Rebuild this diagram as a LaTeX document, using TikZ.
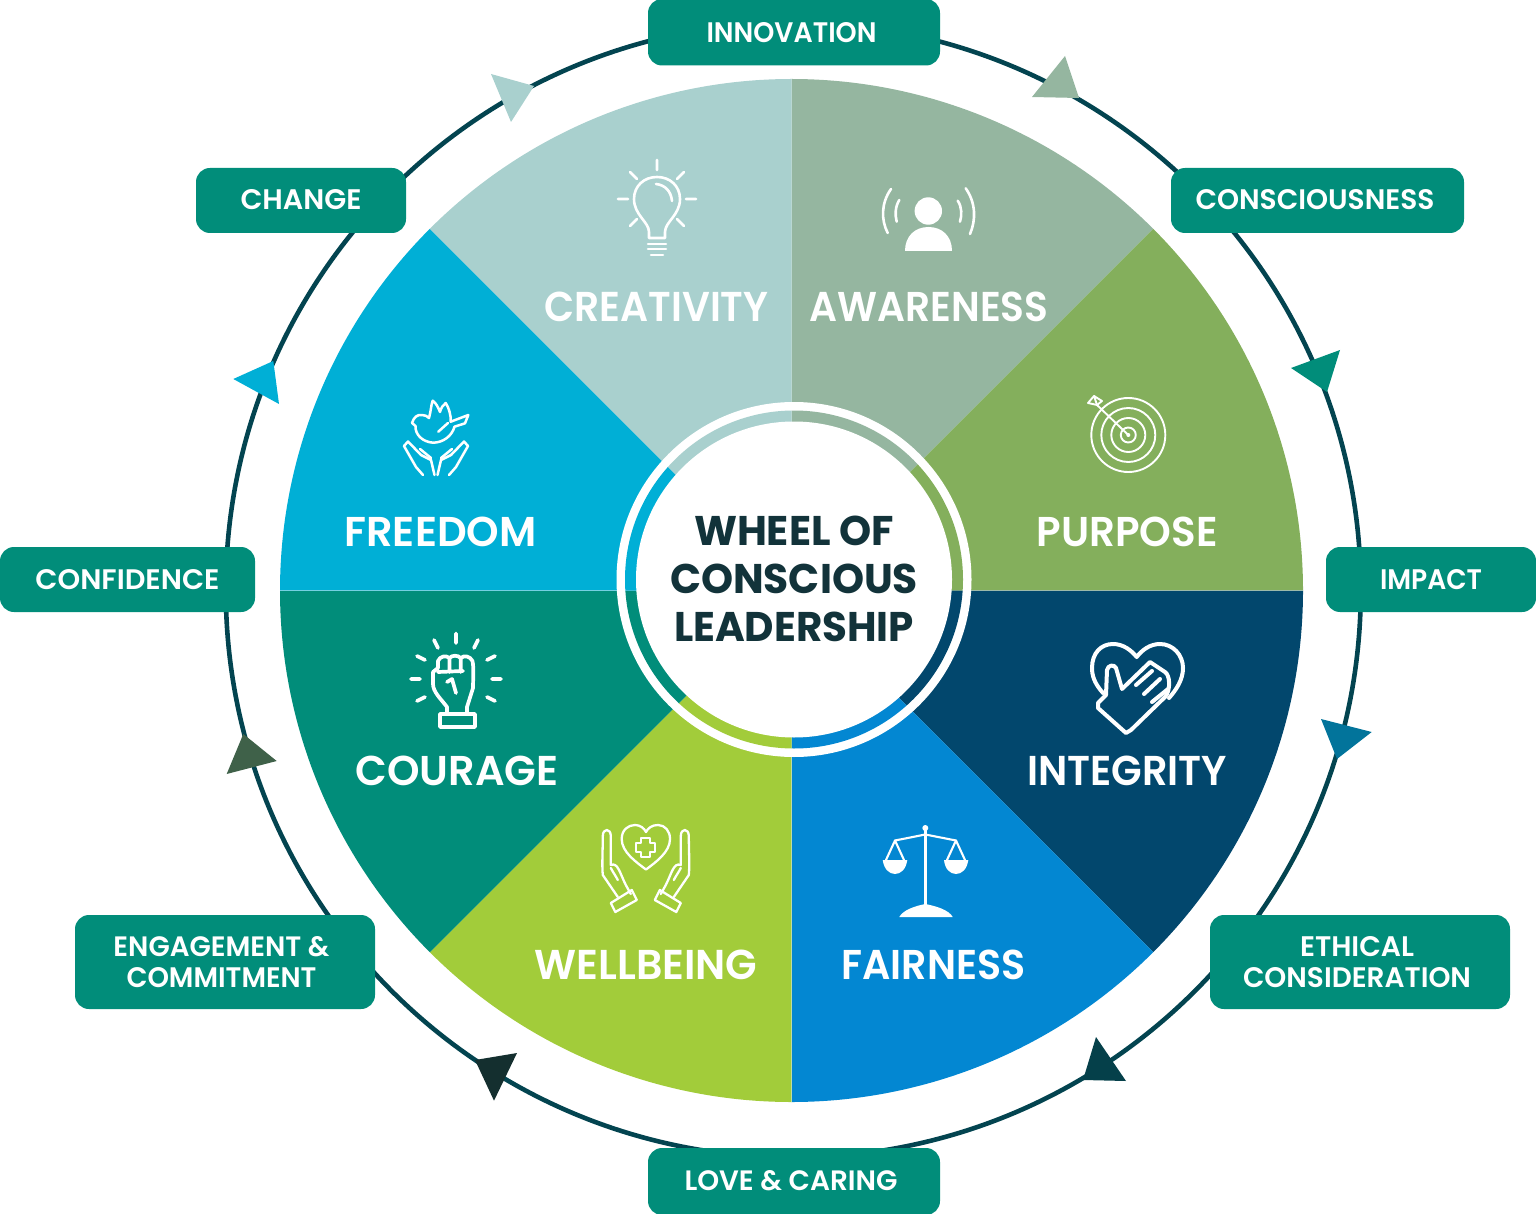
\documentclass[tikz,border=0pt]{standalone}
\usepackage{graphicx}
\usepackage{fontspec}
\setmainfont{Poppins}[BoldFont={Poppins SemiBold}]
\newfontfamily\heavyfont{Poppins}
\definecolor{cSage}{HTML}{95B6A0}
\definecolor{cPurp}{HTML}{84AF5C}
\definecolor{cNavy}{HTML}{02476D}
\definecolor{cBlue}{HTML}{0387D2}
\definecolor{cLime}{HTML}{A2CC3A}
\definecolor{cTeal}{HTML}{018D7A}
\definecolor{cCyan}{HTML}{00AFD6}
\definecolor{cPale}{HTML}{A9D0CE}
\definecolor{cDark}{HTML}{12333A}
\definecolor{cRing}{HTML}{034450}
\definecolor{cTriA}{HTML}{02749B}
\definecolor{cTriB}{HTML}{05404A}
\definecolor{cTriC}{HTML}{142F2F}
\definecolor{cTriD}{HTML}{3F6149}
\tikzset{
 pillbox/.style={fill=cTeal,rounded corners=14pt},
 pilltext/.style={inner sep=0pt,text=white,font=\bfseries\fontsize{26}{30.5}\selectfont,align=center},
 seglabel/.style={text=white,font=\bfseries\fontsize{38}{44}\selectfont,inner sep=0pt},
 hub/.style={text=cDark,font=\heavyfont\bfseries\fontsize{36}{48}\selectfont,align=center,inner sep=0pt},
 icon/.style={draw=white,line width=#1,line cap=round,line join=round},
 icon/.default=2,
}
\newcommand{\wedges}[1]{%
 \foreach \a/\c in {-90/cSage,-45/cPurp,0/cNavy,45/cBlue,90/cLime,135/cTeal,180/cCyan,225/cPale}{
  \fill[\c] (791.5,590.5) -- ++(\a:#1) arc[start angle=\a,delta angle=45,radius=#1] -- cycle;
 }}
\newcommand{\seg}[2]{\resizebox{#1pt}{29.5pt}{#2}}
\newcommand{\hubl}[2]{\resizebox{#1pt}{29.5pt}{#2}}
\newcommand{\pil}[2]{\resizebox{#1pt}{20pt}{#2}}
\begin{document}
\begin{tikzpicture}[x=1pt,y=-1pt]
\useasboundingbox (0,0) rectangle (1536,1214);
% outer ring
\coordinate (ringc) at (793.3,590);
\draw[cRing,line width=4.6pt] (ringc) circle[radius=567.5];
% ring arrowheads
\fill[cPale] (491,74) -- (534,86) -- (511,122) -- cycle;
\fill[cSage] (1065,56) -- (1079,98) -- (1032,97) -- cycle;
\fill[cTeal] (1340,350) -- (1327,392) -- (1291,368) -- cycle;
\fill[cTriA] (1321,719) -- (1371.7,732) -- (1337,759) -- cycle;
\fill[cTriB] (1096,1037) -- (1126,1081) -- (1083,1080) -- cycle;
\fill[cTriC] (517,1053) -- (475,1060) -- (494,1100.7) -- cycle;
\fill[cTriD] (243.3,734) -- (276.7,761) -- (226.7,774) -- cycle;
\fill[cCyan] (233.3,379) -- (273.3,361) -- (279,404) -- cycle;
% wheel
\wedges{511.5}
\draw[white,opacity=.3,line width=.7pt] (280,590.5) -- (1303,590.5) (791.5,590.5) -- (791.5,1102);
\fill[white] (794,579.5) circle[radius=177.5];
\begin{scope}
\clip (794,579.5) circle[radius=169];
\wedges{300}
\end{scope}
\fill[white] (794,579.5) circle[radius=158];
% pills
\fill[pillbox] (648,-1) rectangle (940,65.5);
\fill[pillbox] (1171,168) rectangle (1464,233);
\fill[pillbox] (1326,547) rectangle (1536,612);
\fill[pillbox] (1210,915) rectangle (1510,1009);
\fill[pillbox] (648,1148) rectangle (940,1215);
\fill[pillbox] (75,915) rectangle (375,1009);
\fill[pillbox] (0,547) rectangle (255,612);
\fill[pillbox] (196,168) rectangle (406,233);
\node[pilltext] (pInno) at (791.5,33) {\pil{170}{INNOVATION}};
\node[pilltext] (pCons) at (1315,200) {\pil{239}{CONSCIOUSNESS}};
\node[pilltext] (pImpa) at (1431,580) {\pil{102}{IMPACT}};
\node[pilltext] (pEthi) at (1357,962) {\pil{114}{ETHICAL}\\\pil{228}{CONSIDERATION}};
\node[pilltext] (pLove) at (791,1181) {\pil{213}{LOVE \& CARING}};
\node[pilltext] (pEnga) at (221.5,962) {\pil{216}{ENGAGEMENT \&}\\\pil{190}{COMMITMENT}};
\node[pilltext] (pConf) at (127.5,580) {\pil{184}{CONFIDENCE}};
\node[pilltext] (pChan) at (301,200) {\pil{121}{CHANGE}};
% labels
\node[seglabel] (lCrea) at (656.5,307) {\seg{224}{CREATIVITY}};
\node[seglabel] (lAwar) at (929,307) {\seg{239}{AWARENESS}};
\node[seglabel] (lPurp) at (1127,532) {\seg{181}{PURPOSE}};
\node[seglabel] (lFree) at (440.5,532) {\seg{192}{FREEDOM}};
\node[seglabel] (lInte) at (1127,771) {\seg{200}{INTEGRITY}};
\node[seglabel] (lCour) at (457,771) {\seg{203}{COURAGE}};
\node[seglabel] (lWell) at (646,965) {\seg{223}{WELLBEING}};
\node[seglabel] (lFair) at (933.5,965) {\seg{184}{FAIRNESS}};
\node[hub] (hub) at (794,579) {\hubl{200}{WHEEL OF}\\\hubl{248}{CONSCIOUS}\\\hubl{240}{LEADERSHIP}};
% bulb
\begin{scope}[icon=2.6]
\draw (649,238) -- (649,232) .. controls (649,222) and (634,215) .. (634,199) .. controls (634,186) and (644,177) .. (657,177) .. controls (670,177) and (680,186) .. (680,199) .. controls (680,215) and (665,222) .. (665,232) -- (665,238) -- cycle;
\draw (648,244) -- (666,244) (648,249) -- (666,249) (651,255) -- (663,255);
\draw (656,184) .. controls (665,185) and (671,191) .. (672,201);
\draw (657,160) -- (657,170) (630,172) -- (637,179) (684,172) -- (677,179) (618,199) -- (628,199) (686,199) -- (696,199) (630,226) -- (637,219) (684,226) -- (677,219);
\end{scope}
% awareness
\fill[white] (928.3,211) circle[radius=13.7];
\fill[white] (905,251) .. controls (905,236) and (915,227) .. (928.5,227) .. controls (942,227) and (952,236) .. (952,251) -- cycle;
\begin{scope}[icon=2.6]
\draw (891,189) .. controls (881,203) and (881,220) .. (887.7,233);
\draw (899.3,200) .. controls (895,207) and (895,215) .. (896.7,221.7);
\draw (965.7,188.3) .. controls (976,203) and (976,220) .. (970,234);
\draw (957.7,200.7) .. controls (962,207) and (962,215) .. (960,221.7);
\end{scope}
% dove and hands
\begin{scope}[icon=2.5]
\draw (412,423) .. controls (414,417) and (417,414.5) .. (422,415) .. controls (425,415) and (427,416) .. (429,418) .. controls (431,411) and (431,405) .. (432.7,400.7) .. controls (436,403) and (438,407) .. (440,412) .. controls (441,408) and (443,405) .. (445.7,403) .. controls (449,408) and (451,415) .. (450.7,421.7) -- (468.3,415) -- (465,423.3) -- (454.5,426.7) .. controls (452,436) and (443,442.7) .. (433,442.7) .. controls (423,442) and (415,435) .. (415.5,426) -- cycle;
\draw (438.3,431.7) -- (448,423);
\foreach \s in {1,-1}{
 \begin{scope}[shift={(436,0)},xscale=\s]
 \draw (-13,475) -- (-20,467) -- (-32,446) -- (-28,441.5) -- (-15,455) -- (-5,460) -- (-1.5,475);
 \draw (-16,449) -- (-5,458);
 \end{scope}}
\end{scope}
% target
\begin{scope}[icon=1.9]
\draw (1128.3,435) circle[radius=37] circle[radius=27] circle[radius=17] circle[radius=7.5];
\draw (1128.3,435) -- (1097,405);
\draw (1097,405) -- (1088,403) -- (1094,396) -- (1102,401) -- cycle;
\draw (1097,405) -- (1094,396);
\fill[white] (1128.3,435) circle[radius=2];
\end{scope}
% heart-hand
\begin{scope}[icon=4]
\draw (1103,693) .. controls (1094,683) and (1092,675) .. (1092,668) .. controls (1092,653) and (1101,644) .. (1113,644) .. controls (1123,644) and (1131,650) .. (1136.7,657) .. controls (1142,650) and (1150,644) .. (1160,644) .. controls (1173,644) and (1183,655) .. (1183,668) .. controls (1183,680) and (1176,690) .. (1169,698);
\draw (1098,708) -- (1126,733) -- (1131,730) -- (1165,697) .. controls (1171,690) and (1170,675) .. (1165,672) -- (1153,664) -- (1150,662) -- (1122,689) -- (1116,668) .. controls (1114,664) and (1108,665) .. (1107,670) -- (1106,695) -- (1098,703) -- cycle;
\draw (1136,685) -- (1152,671) (1144,694) -- (1160,679) (1152,702) -- (1168,689);
\end{scope}
% fist
\begin{scope}[icon=3.7]
\draw (456,633.5) -- (456,643) (434,640) -- (438,648) (478,640) -- (474,648) (417,656) -- (425,660) (495,656) -- (487,660) (411,679) -- (420,679) (492,679) -- (501,679) (417,701) -- (425,697) (495,701) -- (487,697);
\draw (440,714) rectangle (475,727);
\draw (447,714) -- (447,707) .. controls (441,699) and (433,692) .. (433,684) -- (433,672) -- (438,668) -- (438,661) .. controls (440,656) and (446,655) .. (449.5,658) .. controls (452,655) and (458,655) .. (460.7,658) .. controls (464,655) and (470,656) .. (472.5,661) .. controls (474,668) and (473,680) .. (473,688) -- (467,707) -- (467,714);
\draw (449.5,658) -- (449.5,672) (460.7,658) -- (460.7,672) (438,672) -- (463,671);
\draw (447,682) -- (452,679) -- (456,693);
\end{scope}
% wellbeing
\begin{scope}[icon=2.3]
\draw (646,869.5) .. controls (636,862) and (621.7,852) .. (621.7,839) .. controls (621.7,830) and (628,825) .. (635,825) .. controls (640,825) and (644,828) .. (646,832) .. controls (648,828) and (652,825) .. (658,825) .. controls (665,825) and (670,831) .. (670,839) .. controls (670,852) and (656,862) .. (646,869.5) -- cycle;
\draw (641,838) -- (650,838) -- (650,843) -- (655,843) -- (655,852) -- (650,852) -- (650,857) -- (641,857) -- (641,852) -- (636,852) -- (636,843) -- (641,843) -- cycle;
\foreach \s in {1,-1}{
 \begin{scope}[shift={(645.8,0)},xscale=\s]
 \draw (-28,897) -- (-43,875) .. controls (-44,865) and (-43,850) .. (-43,836) .. controls (-43,828) and (-35,828) .. (-35,836) -- (-35,865);
 \draw (-35,868) .. controls (-33,872) and (-30,876) .. (-28,880);
 \draw (-35,865) .. controls (-28,862) and (-26,873) .. (-20,885) -- (-15,894);
 \draw (-30.5,912) -- (-9,900) -- (-14,890) -- (-35,903) -- cycle;
 \end{scope}}
\end{scope}
% scales
\fill[white] (925.3,828) circle[radius=3];
\begin{scope}[icon=3.2]
\draw (925.3,828) -- (925.3,905);
\end{scope}
\begin{scope}[icon=2.1]
\draw (895,840.5) -- (925.3,834.5) -- (956,840.5);
\draw (886,860) -- (895,840.5) -- (904,860) (947,860) -- (956,840.5) -- (965,860);
\end{scope}
\fill[white] (882.7,860) .. controls (884,869) and (889,874) .. (895,874) .. controls (901,874) and (906,869) .. (907.3,860) -- cycle;
\fill[white] (944,860) .. controls (945,869) and (950,874) .. (956,874) .. controls (962,874) and (967,869) .. (968.3,860) -- cycle;
\fill[white] (899.3,917) .. controls (903,910) and (915,906) .. (925.3,904) .. controls (936,906) and (949,910) .. (952.7,917) -- cycle;
\end{tikzpicture}
\end{document}
